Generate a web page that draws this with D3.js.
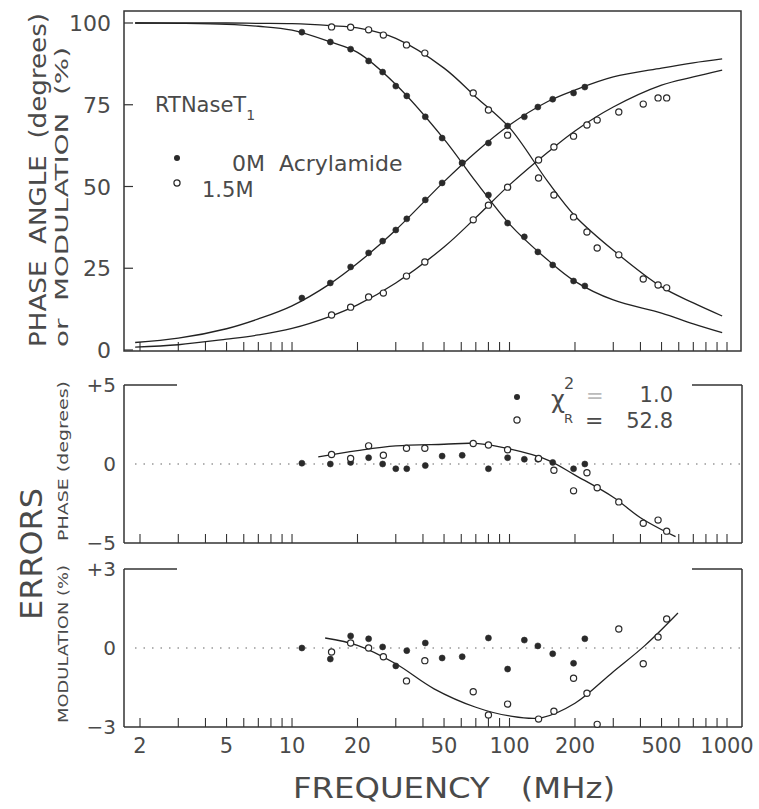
<!DOCTYPE html>
<html><head><meta charset="utf-8">
<script src="https://cdn.jsdelivr.net/npm/d3@7"></script>
<style>
html,body{margin:0;padding:0;background:#fff;}
svg{display:block;}
text{font-family:"DejaVu Sans","Liberation Sans",sans-serif;fill:#4a4a4a;white-space:pre;}
</style></head>
<body>
<svg id="c" width="759" height="809"></svg>
<script>
// ---------- data ----------
const xTicks = [2,3,4,5,6,7,8,9,10,20,30,40,50,60,70,80,90,100,200,300,400,500,600,700,800,900,1000];
const xTickLabels = [2,5,10,20,50,100,200,500,1000];
const yTopTicks = [0,25,50,75,100];

// 0M acrylamide (filled) measurement frequencies (MHz)
const freq0 = [11.1,15,18.6,22.5,26.1,30,33.7,41,49,60.6,80,98,117,135,158,197,222];
const phase0 = [15.9,20.5,25.4,29.7,33.3,36.7,40.1,45.9,51.1,57.2,63.3,68.5,71.3,74.3,76.7,78.6,80.4];
const mod0 = [97.2,94.2,92.0,88.4,85.0,80.7,77.7,71.3,64.8,57.2,47.4,38.8,34.6,30.0,26.0,21.1,19.6];
// 1.5M acrylamide (open)
const freq15 = [15.2,18.6,22.5,26.3,33.6,40.8,68.1,80,98,136,160,197,227,253,318,412,482,528];
const phase15 = [10.7,13.1,16.2,17.4,22.6,26.9,39.8,44.3,49.8,58.1,62.1,65.4,68.8,70.3,72.8,75.2,77.1,77.1];
const mod15 = [98.8,98.7,97.9,96.3,93.3,90.8,78.6,73.4,65.7,52.6,47.4,40.7,36.1,31.2,29.1,21.7,19.9,19.0];

// fitted curves
const fitFreq = [1.9,3,5,7,10,15,20,30,50,70,100,150,200,300,500,700,950];
const fitPhase0 = [2.3,3.6,6.5,9.5,13.5,20.3,26.5,36.7,51.5,60.5,68.8,76,79.5,83.5,86.2,87.8,89];
const fitMod0 = [100,99.9,99.6,99,97.8,94.2,91,81.2,64.5,51.5,38.5,27.5,21,15.3,11.3,8,5.3];
const fitPhase15 = [0.9,1.6,3.3,4.6,6.6,10.3,13.8,20.5,31.5,40.5,50.5,60.5,67,74.3,81,83.5,85.6];
const fitMod15 = [100,100,100,99.9,99.8,99.2,98.5,95.3,86.2,77.4,68,51.5,41,30.5,19.3,14.4,10.4];

// residuals
const phErr0 = [0.05,0,0.1,0.4,0,-0.3,-0.3,-0.1,0.5,0.55,-0.3,0.4,0.3,0.3,0.1,-0.3,0];
const phErr15 = [0.6,0.35,1.15,0.55,1.0,1.0,1.3,1.2,0.9,0.35,-0.4,-1.7,-0.55,-1.5,-2.4,-3.75,-3.55,-4.25];
const modErr0 = [0,-0.42,0.46,0.35,0.04,-0.68,-0.1,0.19,-0.38,-0.33,0.38,-0.8,0.3,0.08,-0.22,-0.58,0.35];
const modErr15 = [-0.15,0.19,0,-0.33,-1.25,-0.48,-1.66,-2.54,-2.13,-2.7,-2.4,-1.15,-1.72,-2.9,0.72,-0.6,0.42,1.1];
const phFitFreq = [13.2,20,30,50,70,100,150,200,300,400,580];
const phFit15 = [0.45,0.85,1.15,1.25,1.3,0.95,0.25,-0.7,-2.1,-3.4,-4.6];
const modFitFreq = [14.2,20,30,45,70,100,140,200,300,420,595];
const modFit15 = [0.38,0.1,-0.6,-1.55,-2.25,-2.58,-2.65,-2.1,-0.9,0.1,1.33];

// ---------- drawing ----------
const svg = d3.select("#c");
const ink = "#222";
const L = 124, R = 741;
const x = d3.scaleLog().domain([2,1000]).range([140,727]);
const yTop = d3.scaleLinear().domain([0,100]).range([350,23]);
const yPh = d3.scaleLinear().domain([-5,5]).range([543,385]);
const yMod = d3.scaleLinear().domain([-3,3]).range([727,569]);

function line(xs, ys, yScale){
  const pts = xs.map((f,i)=>[x(f), yScale(ys[i])]);
  return d3.line().curve(d3.curveCatmullRom.alpha(0.5))(pts);
}
function curve(xs, ys, yScale){
  svg.append("path").attr("d", line(xs,ys,yScale)).attr("fill","none")
    .attr("stroke",ink).attr("stroke-width",1.3);
}
function points(xs, ys, yScale, filled){
  svg.append("g").selectAll("circle").data(xs.map((f,i)=>[f,ys[i]])).join("circle")
    .attr("cx",d=>x(d[0])).attr("cy",d=>yScale(d[1]))
    .attr("r", filled?3:3.1)
    .attr("fill", filled?"#2a2a2a":"#fff")
    .attr("stroke","#2a2a2a").attr("stroke-width", filled?0.6:1.2);
}
function xTickMarks(yAxis){
  svg.append("g").selectAll("line").data(xTicks).join("line")
    .attr("x1",d=>x(d)).attr("x2",d=>x(d))
    .attr("y1",yAxis).attr("y2",yAxis-9)
    .attr("stroke","#333").attr("stroke-width",1.1);
}
function hline(x1,x2,y,w){ svg.append("line").attr("x1",x1).attr("x2",x2).attr("y1",y).attr("y2",y).attr("stroke","#333").attr("stroke-width",w||1.5); }
function vline(xp,y1,y2,w){ svg.append("line").attr("x1",xp).attr("x2",xp).attr("y1",y1).attr("y2",y2).attr("stroke","#333").attr("stroke-width",w||1.5); }

// ---- top panel frame ----
svg.append("rect").attr("x",L).attr("y",11).attr("width",R-L).attr("height",351-11)
  .attr("fill","none").attr("stroke","#333").attr("stroke-width",1.5);
xTickMarks(351);
svg.append("g").selectAll("line").data(yTopTicks).join("line")
  .attr("x1",L).attr("x2",L+9).attr("y1",d=>yTop(d)).attr("y2",d=>yTop(d))
  .attr("stroke","#333").attr("stroke-width",1.2);
svg.append("g").selectAll("text").data(yTopTicks).join("text")
  .attr("x",111).attr("y",d=>yTop(d)+8).attr("text-anchor","end")
  .attr("font-size",22).text(d=>d);

curve(fitFreq, fitPhase0, yTop);
curve(fitFreq, fitMod0, yTop);
curve(fitFreq, fitPhase15, yTop);
curve(fitFreq, fitMod15, yTop);
points(freq0, phase0, yTop, true);
points(freq0, mod0, yTop, true);
points(freq15, phase15, yTop, false);
points(freq15, mod15, yTop, false);

// top legend
const tl = svg.append("text").attr("x",155).attr("y",112).attr("font-size",21);
tl.append("tspan").text("RTNaseT");
tl.append("tspan").attr("font-size",14).attr("dy",8).text("1");
svg.append("circle").attr("cx",177).attr("cy",158).attr("r",3).attr("fill","#2a2a2a");
svg.append("text").attr("x",232).attr("y",171).attr("font-size",22).text("0M  Acrylamide");
svg.append("circle").attr("cx",177).attr("cy",183).attr("r",3.1).attr("fill","#fff").attr("stroke","#2a2a2a").attr("stroke-width",1.2);
svg.append("text").attr("x",202).attr("y",197).attr("font-size",21).text("1.5M");

// top y title
svg.append("text").attr("transform","translate(46,347) rotate(-90)")
  .attr("font-size",23).attr("textLength",334).attr("lengthAdjust","spacingAndGlyphs")
  .text("PHASE  ANGLE  (degrees)");
svg.append("text").attr("transform","translate(68,347) rotate(-90)")
  .attr("font-size",17).attr("textLength",300).attr("lengthAdjust","spacingAndGlyphs")
  .text("or  MODULATION  (%)");

// ---- middle panel (phase errors) ----
vline(L,385,543); hline(L,177,385);
vline(742,385,543); hline(692,742,385);
hline(L,742,543);
xTickMarks(543);
svg.append("line").attr("x1",135).attr("x2",740).attr("y1",yPh(0)).attr("y2",yPh(0))
  .attr("stroke","#666").attr("stroke-width",1.2).attr("stroke-dasharray","1.5,7");
[["+5",5],["0",0],["\u22125",-5]].forEach(([t,v])=>{
  svg.append("text").attr("x",116).attr("y",yPh(v)+7).attr("text-anchor","end").attr("font-size",20).text(t);
});
curve(phFitFreq, phFit15, yPh);
points(freq0, phErr0, yPh, true);
points(freq15, phErr15, yPh, false);
svg.append("text").attr("transform","translate(68,541) rotate(-90)")
  .attr("font-size",14).attr("textLength",160).attr("lengthAdjust","spacingAndGlyphs")
  .text("PHASE (degrees)");

// chi-square legend
svg.append("circle").attr("cx",517).attr("cy",397).attr("r",3).attr("fill","#2a2a2a");
svg.append("circle").attr("cx",517).attr("cy",420).attr("r",3.1).attr("fill","#fff").attr("stroke","#2a2a2a").attr("stroke-width",1.2);
svg.append("text").attr("x",551).attr("y",408).attr("font-size",24).text("\u03C7");
svg.append("text").attr("x",564).attr("y",389).attr("font-size",16).text("2");
svg.append("text").attr("x",564).attr("y",423).attr("font-size",13).text("R");
svg.append("text").attr("x",586).attr("y",403).attr("font-size",21).style("fill","#bbb").text("=");
svg.append("text").attr("x",673).attr("y",402).attr("text-anchor","end").attr("font-size",21).text("1.0");
svg.append("text").attr("x",585).attr("y",428).attr("font-size",22).text("=");
svg.append("text").attr("x",673).attr("y",428).attr("text-anchor","end").attr("font-size",21).text("52.8");

// ---- bottom panel (modulation errors) ----
vline(L,569,727); hline(L,177,569);
vline(742,569,727); hline(692,742,569);
hline(L,742,727);
xTickMarks(727);
svg.append("line").attr("x1",135).attr("x2",740).attr("y1",yMod(0)).attr("y2",yMod(0))
  .attr("stroke","#666").attr("stroke-width",1.2).attr("stroke-dasharray","1.5,7");
[["+3",3],["0",0],["\u22123",-3]].forEach(([t,v])=>{
  svg.append("text").attr("x",116).attr("y",yMod(v)+7).attr("text-anchor","end").attr("font-size",20).text(t);
});
curve(modFitFreq, modFit15, yMod);
points(freq0, modErr0, yMod, true);
points(freq15, modErr15, yMod, false);
svg.append("text").attr("transform","translate(68,723) rotate(-90)")
  .attr("font-size",14).attr("textLength",158).attr("lengthAdjust","spacingAndGlyphs")
  .text("MODULATION (%)");

// ERRORS
svg.append("text").attr("transform","translate(42,620) rotate(-90)")
  .attr("font-size",31).attr("textLength",132).attr("lengthAdjust","spacingAndGlyphs")
  .text("ERRORS");

// x labels
svg.append("g").selectAll("text").data(xTickLabels).join("text")
  .attr("x",d=>x(d)).attr("y",753).attr("text-anchor","middle").attr("font-size",21).text(d=>d);
svg.append("text").attr("x",293).attr("y",798).attr("font-size",28)
  .attr("textLength",322).attr("lengthAdjust","spacingAndGlyphs").text("FREQUENCY   (MHz)");
</script>
</body></html>
